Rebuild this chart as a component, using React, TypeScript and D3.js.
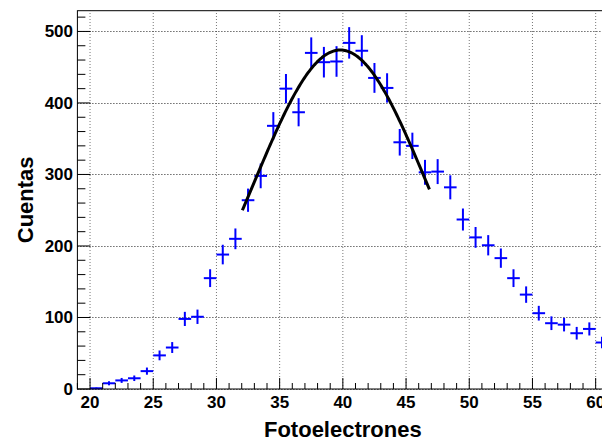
import React from "react";
import * as d3 from "d3";

// ---- Data ----
const binCenters = [
  20.5, 21.5, 22.5, 23.5, 24.5, 25.5, 26.5, 27.5, 28.5, 29.5,
  30.5, 31.5, 32.5, 33.5, 34.5, 35.5, 36.5, 37.5, 38.5, 39.5,
  40.5, 41.5, 42.5, 43.5, 44.5, 45.5, 46.5, 47.5, 48.5, 49.5,
  50.5, 51.5, 52.5, 53.5, 54.5, 55.5, 56.5, 57.5, 58.5, 59.5, 60.5,
];
const counts = [
  1, 8, 12, 15, 25, 47, 58, 98, 101, 155,
  188, 210, 264, 298, 368, 420, 387, 470, 457, 458,
  484, 473, 435, 421, 345, 340, 303, 304, 282, 237,
  212, 201, 183, 155, 132, 106, 92, 90, 78, 84, 65,
];
const binWidth = 1;

// Gaussian fit parameters (drawn as fitted curve)
const fitAmplitude = 474;
const fitMean = 39.8;
const fitSigma = 6.85;
const fitRange = [32.05, 46.85];

const xTickLabels = [20, 25, 30, 35, 40, 45, 50, 55, 60];
const yTickLabels = [0, 100, 200, 300, 400, 500];
const xTitle = "Fotoelectrones";
const yTitle = "Cuentas";

const W = 602;
const H = 440;

export default function App() {
  const x = d3.scaleLinear().domain([19, 61]).range([77.4, 608.3]);
  const y = d3.scaleLinear().domain([0, 529]).range([389, 10.7]);
  const [x0, x1] = x.range();
  const [yb, yt] = y.range();

  const xMinor = d3.range(19, 62, 1).filter((v) => v % 5 !== 0);
  const yMinor = d3.range(0, 529, 20).filter((v) => v % 100 !== 0);

  const fitPts = d3.range(fitRange[0], fitRange[1] + 0.0001, 0.1).map((v) => [
    v,
    fitAmplitude * Math.exp(-((v - fitMean) ** 2) / (2 * fitSigma * fitSigma)),
  ]);
  const line = d3
    .line<number[]>()
    .x((d) => x(d[0]))
    .y((d) => y(d[1]))
    .curve(d3.curveLinear);

  const font = "'Liberation Sans', Arial, Helvetica, sans-serif";

  return (
    <svg
      width={W}
      height={H}
      style={{ position: "absolute", left: 0, top: 0, background: "#fff" }}
    >
      <rect x={0} y={0} width={W} height={H} fill="#fff" />
      {/* grid */}
      {xTickLabels.map((v) => (
        <line
          key={"gx" + v}
          x1={x(v)}
          x2={x(v)}
          y1={yb}
          y2={yt}
          stroke="#777"
          strokeWidth={1}
          strokeDasharray="1 2"
        />
      ))}
      {yTickLabels.map((v) => (
        <line
          key={"gy" + v}
          x1={x0}
          x2={x1}
          y1={Math.round(y(v)) + 0.5}
          y2={Math.round(y(v)) + 0.5}
          stroke="#222"
          strokeWidth={1}
          strokeDasharray="1 2"
        />
      ))}

      {/* data with error bars */}
      <g stroke="#0000ff" strokeWidth={2} fill="none">
        {binCenters.map((c, i) => {
          const n = counts[i];
          const e = Math.sqrt(n);
          return (
            <g key={"p" + i}>
              <line
                x1={x(c - binWidth / 2)}
                x2={x(c + binWidth / 2)}
                y1={y(n)}
                y2={y(n)}
              />
              <line x1={x(c)} x2={x(c)} y1={y(Math.max(0, n - e))} y2={y(n + e)} />
            </g>
          );
        })}
      </g>

      {/* fit */}
      <path
        d={line(fitPts) || ""}
        stroke="#000"
        strokeWidth={3}
        fill="none"
        strokeLinejoin="round"
      />

      {/* frame */}
      <rect
        x={x0}
        y={yt}
        width={x1 - x0}
        height={yb - yt}
        fill="none"
        stroke="#000"
        strokeWidth={1}
      />

      {/* x ticks */}
      {xTickLabels.map((v) => (
        <line key={"xt" + v} x1={x(v)} x2={x(v)} y1={yb} y2={yb - 11} stroke="#000" />
      ))}
      {xMinor.map((v) => (
        <line key={"xm" + v} x1={x(v)} x2={x(v)} y1={yb} y2={yb - 6} stroke="#000" />
      ))}
      {/* y ticks */}
      {yTickLabels.map((v) => (
        <line key={"yt" + v} x1={x0} x2={x0 + 13} y1={y(v)} y2={y(v)} stroke="#000" />
      ))}
      {yMinor.map((v) => (
        <line key={"ym" + v} x1={x0} x2={x0 + 8} y1={y(v)} y2={y(v)} stroke="#000" />
      ))}

      {/* tick labels */}
      <g fontFamily={font} fontWeight="bold" fontSize={17} fill="#000">
        {xTickLabels.map((v) => (
          <text key={"xl" + v} x={x(v)} y={407.5} textAnchor="middle">
            {v}
          </text>
        ))}
        {yTickLabels.map((v) => (
          <text key={"yl" + v} x={73} y={y(v) + 6} textAnchor="end">
            {v}
          </text>
        ))}
      </g>

      {/* axis titles */}
      <text
        x={(x0 + x1) / 2}
        y={436.5}
        textAnchor="middle"
        fontFamily={font}
        fontWeight="bold"
        fontSize={22}
      >
        {xTitle}
      </text>
      <text
        transform={`translate(33,${(yb + yt) / 2}) rotate(-90)`}
        textAnchor="middle"
        fontFamily={font}
        fontWeight="bold"
        fontSize={22}
      >
        {yTitle}
      </text>
    </svg>
  );
}
